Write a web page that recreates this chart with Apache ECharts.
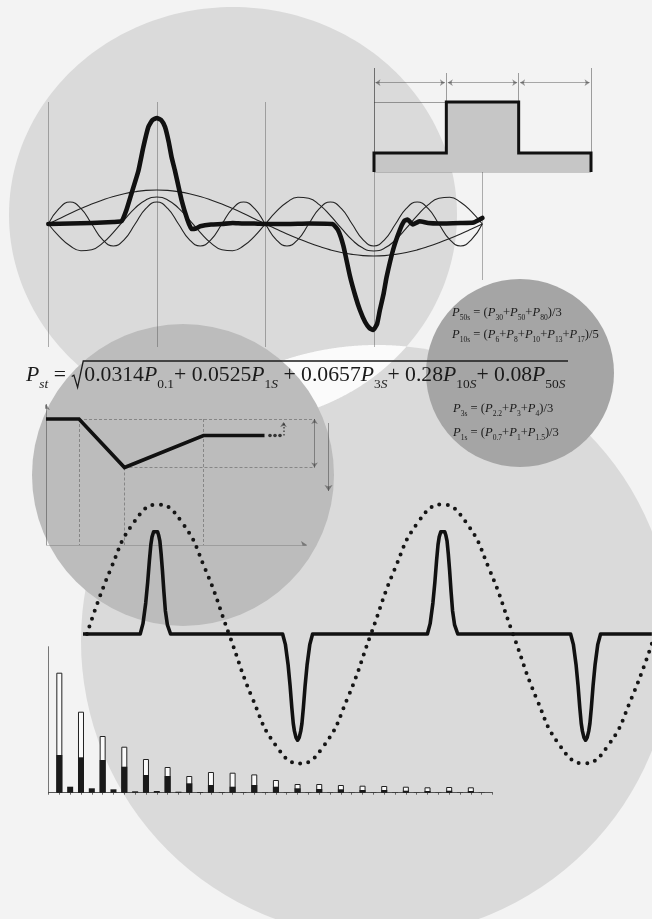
<!DOCTYPE html>
<html>
<head>
<meta charset="utf-8">
<script src="https://cdn.jsdelivr.net/npm/echarts/dist/echarts.min.js"></script>
<style>html,body{margin:0;padding:0;background:#f3f3f3}#c{width:652px;height:919px}</style>
</head>
<body>
<div id="c"></div>
<script>
// ---------------- DATA ----------------
// Top panel: pulse pair and its odd harmonics (t in half periods, 0..2)
const harmT = [0,0.05,0.1,0.15,0.2,0.25,0.3,0.35,0.4,0.45,0.5,0.55,0.6,0.65,0.7,0.75,0.8,0.85,0.9,0.95,1,1.05,1.1,1.15,1.2,1.25,1.3,1.35,1.4,1.45,1.5,1.55,1.6,1.65,1.7,1.75,1.8,1.85,1.9,1.95,2];
const harm1 = [0,5.3,10.5,15.4,20,24,27.5,30.3,32.3,33.6,34,33.6,32.3,30.3,27.5,24,20,15.4,10.5,5.3,0,-5,-9.9,-14.5,-18.8,-22.6,-25.9,-28.5,-30.4,-31.6,-32,-31.6,-30.4,-28.5,-25.9,-22.6,-18.8,-14.5,-9.9,-5,0];
const harm3 = [0,-12.3,-21.8,-26.7,-25.7,-19.1,-8.3,4.2,15.9,24.1,27,24.1,15.9,4.2,-8.3,-19.1,-25.7,-26.7,-21.8,-12.3,0,12.3,21.8,26.7,25.7,19.1,8.3,-4.2,-15.9,-24.1,-27,-24.1,-15.9,-4.2,8.3,19.1,25.7,26.7,21.8,12.3,0];
const harm5 = [0,15.6,22,15.6,0,-15.6,-22,-15.6,0,15.6,22,15.6,0,-15.6,-22,-15.6,0,15.6,22,15.6,0,-15.6,-22,-15.6,0,15.6,22,15.6,0,-15.6,-22,-15.6,0,15.6,22,15.6,0,-15.6,-22,-15.6,0];
const thickT = [0,0.1,0.2,0.3,0.338,0.36,0.384,0.415,0.438,0.461,0.48,0.5,0.52,0.538,0.555,0.568,0.584,0.614,0.64,0.66,0.68,0.7,0.75,0.8,0.85,0.9,0.95,1,1.1,1.2,1.31,1.335,1.36,1.39,1.415,1.436,1.46,1.48,1.497,1.515,1.528,1.545,1.559,1.59,1.62,1.64,1.655,1.68,1.71,1.75,1.8,1.9,1.96,2];
const thickV = [0,0.5,1,2,3,14,31,53,77,97,104,106,104,97,82,67,53,24,5,-5,-4.5,-2.3,-0.5,0,1,0.5,0.5,0,0,0.5,0,-6,-22,-52,-72,-86,-98,-104,-106,-100,-86,-70,-53,-25,-6,3,4.5,-0.5,2.7,1,0.5,1,1.5,6];

// Top-right panel: rectangular step (x in segment units, y levels)
const squareX = [0,0,1,1,2,2,3,3];
const squareY = [0,19,19,70,70,19,19,0];

// Middle-left panel: voltage dip and recovery
const stepX = [0,33,78.5,157.5,218.5];
const stepY = [126,126,77.5,109.5,109.5];
const stepDotsX = [224,229,234];
const stepDotsY = [109.5,109.5,109.5];

// Big wave panel (phase in degrees)
const sineDeg = [0,30,60,90,120,150,180,210,240,270,300,330,360,390,420,450,480,510,540,570,600,630,660,690,720];
const sineVal = [0,0.5,0.866,1,0.866,0.5,0,-0.5,-0.866,-1,-0.866,-0.5,0,0.5,0.866,1,0.866,0.5,0,-0.5,-0.866,-1,-0.866,-0.5,0];
const spikeDeg = [-5,67.5,71,74.5,77,79.2,81,82.5,84.5,87,89.5,91,92.4,94,95.7,97.5,99.4,102,106,
  248,251.5,255,257.5,259.7,261.5,263,265,267,269,271,272.5,274.3,276.5,279,282.5,286,
  431.5,435,438.5,441,443.2,445,446.5,448.5,451,453.5,455,456.4,458,459.7,461.5,463.4,466,470,
  613,616.5,620,622.5,624.7,626.5,628,630,632,634,636,637.5,639.3,641.5,644,647.5,651,716];
const spikeVal = [0,0,0.08,0.24,0.4,0.57,0.69,0.75,0.79,0.8,0.79,0.76,0.72,0.62,0.49,0.33,0.18,0.07,0,
  0,-0.08,-0.24,-0.4,-0.57,-0.69,-0.75,-0.8,-0.82,-0.8,-0.75,-0.69,-0.57,-0.4,-0.24,-0.08,0,
  0,0.08,0.24,0.4,0.57,0.69,0.75,0.79,0.8,0.79,0.76,0.72,0.62,0.49,0.33,0.18,0.07,0,
  0,-0.08,-0.24,-0.4,-0.57,-0.69,-0.75,-0.8,-0.82,-0.8,-0.75,-0.69,-0.57,-0.4,-0.24,-0.08,0,0];

// Harmonic spectrum bars (order 1..40)
const barOrder = [1,2,3,4,5,6,7,8,9,10,11,12,13,14,15,16,17,18,19,20,21,22,23,24,25,26,27,28,29,30,31,32,33,34,35,36,37,38,39,40];
const barTotal = [120,6,81,4.4,56.7,3.4,46,1.4,33.7,1.7,25.7,1,16.7,0.7,20.7,0.5,20,0.4,18.3,0.3,12.7,0.3,8.7,0.3,8.7,0.3,7.7,0.3,7,0.3,6.7,0.3,6,0.3,5.4,0.3,5.7,0.3,5.4,0.3];
const barBlack = [37.7,6,35.4,4.4,32.7,3.4,26,1.4,17.7,1.7,16.7,1,9.4,0.7,7.7,0.5,6,0.4,7.7,0.3,6,0.3,4.4,0.3,3.7,0.3,3.4,0.3,2.7,0.3,2.7,0.3,2,0.3,1.7,0.3,2,0.3,1.7,0.3];

// Formula texts
const mainFormula = [['P','it'],['st','itsub'],[' = ','rm'],['','rad'],['0.0314','rm'],['P','it'],['0.1','sub'],['+ 0.0525','rm'],['P','it'],['1','sub'],['S','itsub'],[' + 0.0657','rm'],['P','it'],['3','sub'],['S','itsub'],['+ 0.28','rm'],['P','it'],['10','sub'],['S','itsub'],['+ 0.08','rm'],['P','it'],['50','sub'],['S','itsub']];
const f50 = [['P','it'],['50s','sub'],[' = (','rm'],['P','it'],['30','sub'],['+','rm'],['P','it'],['50','sub'],['+','rm'],['P','it'],['80','sub'],[')/3','rm']];
const f10 = [['P','it'],['10s','sub'],[' = (','rm'],['P','it'],['6','sub'],['+','rm'],['P','it'],['8','sub'],['+','rm'],['P','it'],['10','sub'],['+','rm'],['P','it'],['13','sub'],['+','rm'],['P','it'],['17','sub'],[')/5','rm']];
const f3 = [['P','it'],['3s','sub'],[' = (','rm'],['P','it'],['2.2','sub'],['+','rm'],['P','it'],['3','sub'],['+','rm'],['P','it'],['4','sub'],[')/3','rm']];
const f1 = [['P','it'],['1s','sub'],[' = (','rm'],['P','it'],['0.7','sub'],['+','rm'],['P','it'],['1','sub'],['+','rm'],['P','it'],['1.5','sub'],[')/3','rm']];

// ---------------- DECORATION ----------------
const FONT = "'Liberation Serif','DejaVu Serif',serif";
const INK = '#1b1b1b';
const C_BG = '#f3f3f3', C_LIGHT = '#dadada', C_LENS = '#fbfbfb', C_MID = '#bcbcbc', C_DARK = '#a5a5a5';
const ellTop = {cx:233, cy:215, rx:224, ry:208};
const circBig = {cx:377, cy:641, r:296};
const circMid = {cx:183, cy:475, r:151};
const circDark = {cx:520, cy:373, r:94};

function ellipsePts(e, n) {
  const p = [];
  for (let i = 0; i < n; i++) { const a = i / n * Math.PI * 2; p.push([e.cx + e.rx * Math.cos(a), e.cy + e.ry * Math.sin(a)]); }
  return p;
}
function lensPts() {
  const pts = [];
  const inEll = (x, y) => ((x - ellTop.cx) / ellTop.rx) ** 2 + ((y - ellTop.cy) / ellTop.ry) ** 2 <= 1;
  const inBig = (x, y) => (x - circBig.cx) ** 2 + (y - circBig.cy) ** 2 <= circBig.r ** 2;
  for (let i = 0; i <= 1440; i++) { const a = Math.PI + i / 1440 * Math.PI; const x = circBig.cx + circBig.r * Math.cos(a), y = circBig.cy + circBig.r * Math.sin(a); if (inEll(x, y)) pts.push([x, y]); }
  for (let i = 0; i <= 1440; i++) { const a = i / 1440 * Math.PI; const x = ellTop.cx + ellTop.rx * Math.cos(a), y = ellTop.cy + ellTop.ry * Math.sin(a); if (inBig(x, y)) pts.push([x, y]); }
  return pts;
}

const mctx = document.createElement('canvas').getContext('2d');
function mathLayout(tokens, x0, base, size, opt) {
  opt = opt || {};
  const subR = opt.subR || 0.62, subDrop = opt.subDrop || 0.3;
  let x = x0; const els = [];
  tokens.forEach(([txt, kind]) => {
    if (kind === 'rad') {
      const w = size * 0.6;
      els.push({type:'polyline', z:100, shape:{points:[[x + size*0.02, base - size*0.3],[x + size*0.12, base - size*0.36],[x + size*0.29, base + size*0.2],[x + w - size*0.05, opt.radTop],[opt.radEnd, opt.radTop]]}, style:{stroke:INK, lineWidth:1.3, fill:null}});
      x += w; return;
    }
    const sub = kind.indexOf('sub') >= 0, it = kind.indexOf('it') >= 0;
    const s = sub ? size * subR : size;
    mctx.font = (it ? 'italic ' : 'normal ') + 'normal ' + s + 'px ' + FONT;
    const w = mctx.measureText(txt).width;
    const bl = sub ? base + size * subDrop : base;
    els.push({type:'text', z:100, x:x, y:bl - s*0.34, style:{text:txt, fontSize:s, fontFamily:FONT, fontStyle: it ? 'italic' : 'normal', fill:INK, align:'left', verticalAlign:'middle'}});
    x += w;
  });
  return {els:els, width:x - x0};
}
function fitSize(tokens, target, opt) { return 100 * target / mathLayout(tokens, 0, 0, 100, Object.assign({radTop:0, radEnd:0}, opt)).width; }

const mainSize = fitSize(mainFormula, 540);
const smallSize = fitSize(f10, 147, {subR:0.6});
const textEls = [].concat(
  mathLayout(mainFormula, 26, 383, mainSize, {radTop:361, radEnd:568}).els,
  mathLayout(f50, 452, 316.5, smallSize, {subR:0.6}).els,
  mathLayout(f10, 452, 339, smallSize, {subR:0.6}).els,
  mathLayout(f3, 453, 412.5, smallSize, {subR:0.6}).els,
  mathLayout(f1, 453, 437, smallSize, {subR:0.6}).els
);

const bgEls = [
  {type:'polygon', z:-10, shape:{points:ellipsePts(ellTop, 240)}, style:{fill:C_LIGHT}, silent:true},
  {type:'circle', z:-10, shape:{cx:circBig.cx, cy:circBig.cy, r:circBig.r}, style:{fill:C_LIGHT}, silent:true},
  {type:'polygon', z:-10, shape:{points:lensPts()}, style:{fill:C_LENS}, silent:true},
  {type:'circle', z:-10, shape:{cx:circMid.cx, cy:circMid.cy, r:circMid.r}, style:{fill:C_MID}, silent:true},
  {type:'circle', z:-10, shape:{cx:circDark.cx, cy:circDark.cy, r:circDark.r}, style:{fill:C_DARK}, silent:true}
];

// ---------------- CHART ----------------
const hid = (i, min, max) => ({type:'value', gridIndex:i, min:min, max:max, show:false, splitLine:{show:false}});
const thin = {color:'#555', width:0.9};
const seg = (a, b) => ({coords:[a, b]});

const option = {
  backgroundColor: C_BG,
  animation: false,
  graphic: {elements: bgEls.concat(textEls)},
  grid: [
    {left:48.3, top:64, width:434, height:320, outerBoundsMode:'none'},
    {left:374, top:68, width:217, height:104, outerBoundsMode:'none'},
    {left:46, top:404, width:300, height:141, outerBoundsMode:'none'},
    {left:83, top:439.75, width:569, height:388.5, outerBoundsMode:'none'},
    {left:48.5, top:646.7, width:444, height:146, outerBoundsMode:'none'}
  ],
  xAxis: [
    hid(0, 0, 2), hid(1, 0, 3), hid(2, 0, 300), hid(3, -5, 716.2),
    {type:'value', gridIndex:4, min:0, max:41, interval:1,
     axisLine:{show:true, lineStyle:{color:'#444', width:0.9}},
     axisTick:{show:true, length:2, lineStyle:{color:'#444', width:0.8}},
     axisLabel:{show:false}, splitLine:{show:false}}
  ],
  yAxis: [
    hid(0, -160, 160), hid(1, 0, 104), hid(2, 0, 141), hid(3, -1.5, 1.5),
    {type:'value', gridIndex:4, min:0, max:146,
     axisLine:{show:true, lineStyle:{color:'#555', width:0.8}},
     axisTick:{show:false}, axisLabel:{show:false}, splitLine:{show:false}}
  ],
  series: [
    // --- top panel ---
    {type:'lines', coordinateSystem:'cartesian2d', xAxisIndex:0, yAxisIndex:0, silent:true, lineStyle:thin, symbol:'none',
     data:[seg([0,122],[0,-123]), seg([0.5,122],[0.5,-123]), seg([1,122],[1,-123]), seg([1.5,156],[1.5,-123]), seg([2,54],[2,-56])]},
    {type:'line', xAxisIndex:0, yAxisIndex:0, smooth:true, symbol:'none', silent:true, lineStyle:{color:'#222', width:1.1}, data:harmT.map((t,i)=>[t,harm1[i]])},
    {type:'line', xAxisIndex:0, yAxisIndex:0, smooth:true, symbol:'none', silent:true, lineStyle:{color:'#222', width:1.1}, data:harmT.map((t,i)=>[t,harm3[i]])},
    {type:'line', xAxisIndex:0, yAxisIndex:0, smooth:true, symbol:'none', silent:true, lineStyle:{color:'#222', width:1.1}, data:harmT.map((t,i)=>[t,harm5[i]])},
    {type:'line', xAxisIndex:0, yAxisIndex:0, smooth:0.15, symbol:'none', silent:true, lineStyle:{color:'#111', width:4.6, join:'round', cap:'round'}, data:thickT.map((t,i)=>[t,thickV[i]])},
    // --- square panel ---
    {type:'line', xAxisIndex:1, yAxisIndex:1, symbol:'none', silent:true, lineStyle:{color:'#111', width:3, join:'miter'}, areaStyle:{color:'#c6c6c6', opacity:1, origin:0},
     data:squareX.map((x,i)=>[x,squareY[i]])},
    {type:'lines', coordinateSystem:'cartesian2d', xAxisIndex:1, yAxisIndex:1, silent:true, lineStyle:{color:'#333', width:0.9}, symbol:'none',
     data:[seg([0,0],[3,0]), seg([0,70],[1,70]), seg([1,70],[1,99]), seg([2,70],[2,99]), seg([3,19],[3,104]), seg([0,104],[0,19])]},
    {type:'lines', coordinateSystem:'cartesian2d', xAxisIndex:1, yAxisIndex:1, silent:true, lineStyle:{color:'#444', width:0.9, type:[3,2]}, symbol:'none',
     data:[seg([1.5,0],[1.5,70])]},
    {type:'lines', coordinateSystem:'cartesian2d', xAxisIndex:1, yAxisIndex:1, silent:true, lineStyle:{color:'#333', width:0.8}, symbol:['arrow','arrow'], symbolSize:5,
     data:[seg([0.02,89.3],[0.98,89.3]), seg([1.02,89.3],[1.98,89.3]), seg([2.02,89.3],[2.98,89.3])]},
    // --- step panel ---
    {type:'lines', coordinateSystem:'cartesian2d', xAxisIndex:2, yAxisIndex:2, silent:true, lineStyle:{color:'#444', width:0.9, type:[3,2]}, symbol:'none',
     data:[seg([33,126],[269,126]), seg([78.5,77.5],[269,77.5]), seg([33,126],[33,0]), seg([78.5,77.5],[78.5,0]), seg([157.5,126],[157.5,0])]},
    {type:'lines', coordinateSystem:'cartesian2d', xAxisIndex:2, yAxisIndex:2, silent:true, lineStyle:{color:'#333', width:0.9}, symbol:['none','arrow'], symbolSize:6,
     data:[seg([0,0],[261,0]), seg([0,0],[0,141]), seg([282.5,122],[282.5,54])]},
    {type:'lines', coordinateSystem:'cartesian2d', xAxisIndex:2, yAxisIndex:2, silent:true, lineStyle:{color:'#333', width:0.9}, symbol:['arrow','arrow'], symbolSize:5,
     data:[seg([268.5,126],[268.5,77.5])]},
    {type:'lines', coordinateSystem:'cartesian2d', xAxisIndex:2, yAxisIndex:2, silent:true, lineStyle:{color:'#111', width:2, type:[1.5,2]}, symbol:['none','arrow'], symbolSize:5,
     data:[seg([237.5,109.5],[237.5,123])]},
    {type:'line', xAxisIndex:2, yAxisIndex:2, symbol:'none', silent:true, lineStyle:{color:'#111', width:3.6, join:'miter'}, data:stepX.map((x,i)=>[x,stepY[i]])},
    {type:'scatter', xAxisIndex:2, yAxisIndex:2, symbol:'circle', symbolSize:3.6, silent:true, itemStyle:{color:'#111'}, data:stepDotsX.map((x,i)=>[x,stepDotsY[i]])},
    // --- big wave panel ---
    {type:'line', xAxisIndex:3, yAxisIndex:3, smooth:true, symbol:'none', silent:true, lineStyle:{color:'#151515', width:4, type:[0,8.2], cap:'round'}, data:sineDeg.map((d,i)=>[d,sineVal[i]])},
    {type:'line', xAxisIndex:3, yAxisIndex:3, symbol:'none', silent:true, lineStyle:{color:'#111', width:3.6, join:'round'}, data:spikeDeg.map((d,i)=>[d,spikeVal[i]])},
    // --- spectrum bars ---
    {type:'bar', xAxisIndex:4, yAxisIndex:4, barWidth:6, barGap:'-100%', silent:true, itemStyle:{color:'#fafafa', borderColor:'#222', borderWidth:1},
     data:barOrder.map((h,i)=>[h, h % 2 ? barTotal[i] : null])},
    {type:'bar', xAxisIndex:4, yAxisIndex:4, barWidth:6, barGap:'-100%', silent:true, itemStyle:{color:'#1a1a1a'},
     data:barOrder.map((h,i)=>[h, barBlack[i]])}
  ]
};

const chart = echarts.init(document.getElementById('c'), null, {width:652, height:919});
chart.setOption(option);
</script>
</body>
</html>
